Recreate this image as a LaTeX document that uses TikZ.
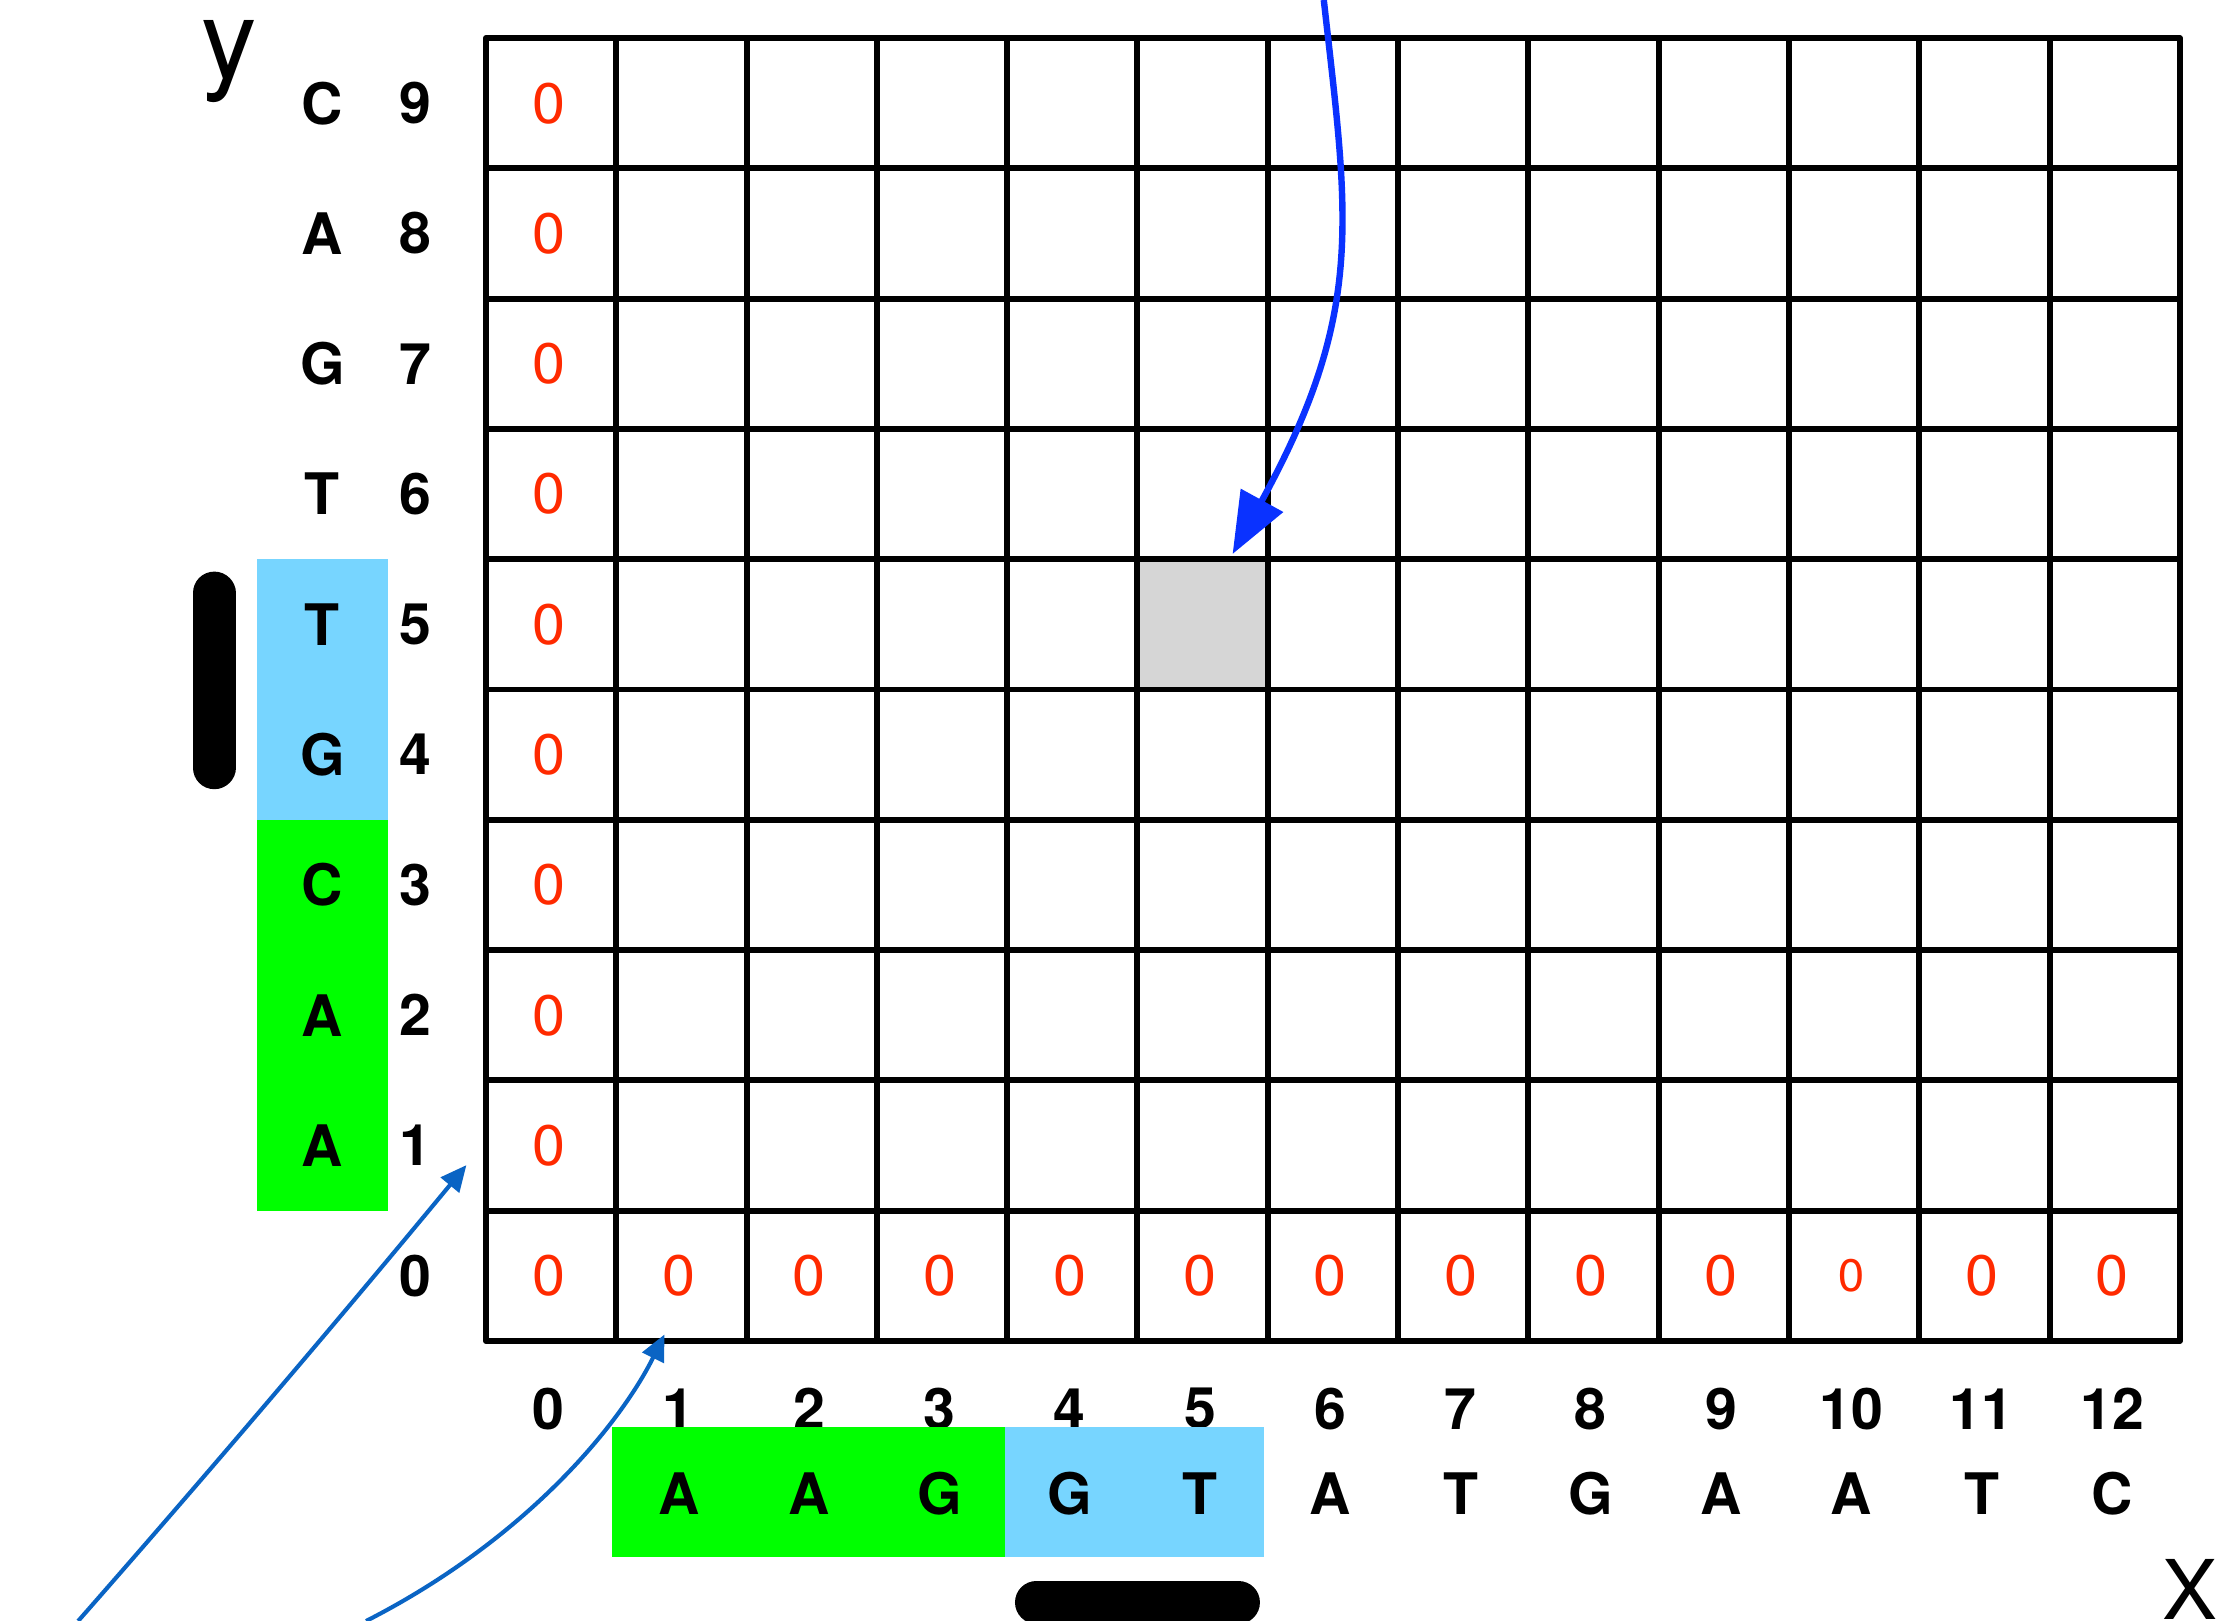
\documentclass[tikz,border=0pt]{standalone}
\usepackage{fontspec}
\setmainfont{TeX Gyre Heros}
\newfontfamily\zerofont{DejaVu Sans}
\usetikzlibrary{arrows.meta}
\definecolor{zred}{HTML}{FF2A00}
\definecolor{seqgreen}{HTML}{00FF00}
\definecolor{seqblue}{HTML}{77D5FF}
\definecolor{cellgray}{HTML}{D6D6D6}
\definecolor{arrowblue}{HTML}{0A32FF}
\definecolor{linkblue}{HTML}{0A64C4}
\begin{document}
\begin{tikzpicture}[x=1cm,y=1cm,
  lab/.style={font=\fontsize{12.5}{14}\selectfont\bfseries, inner sep=0pt},
  zero/.style={font=\zerofont\fontsize{11.9}{13}\selectfont, text=zred, inner sep=0pt},
  smallzero/.style={font=\zerofont\fontsize{9.5}{11}\selectfont, text=zred, inner sep=0pt},
  gridline/.style={line width=1.3pt},
  pill/.style={line width=0.33cm, line cap=round},
  bigarrow/.style={arrowblue, line width=1.4pt, -{Triangle[length=0.47cm,width=0.36cm]}},
  linkarrow/.style={linkblue, line width=0.9pt, -{Triangle[length=0.2cm,width=0.18cm]}}]
\useasboundingbox (-3.730,-2.149) rectangle (13.362,10.292);

% left coloured boxes
\fill[seqblue] (-1.757,4) rectangle (-0.752,6);
\fill[seqgreen] (-1.757,1) rectangle (-0.752,4);

% highlighted cell
\node[fill=cellgray, minimum size=1cm, inner sep=0pt, anchor=south west] (gray) at (5,5) {};

% grid
\draw[gridline] (0,0) grid (13,10);
\draw[gridline, line join=round] (0,0) rectangle (13,10);

% row numbers and left sequence
\foreach \j in {0,...,9} \node[lab] (r\j) at (-0.545,\j+0.5) {\j};
\foreach \l [count=\j] in {A,A,C,G,T,T,G,A,C} \node[lab] (L\j) at (-1.255,\j+0.5) {\l};

% zeros
\foreach \j in {0,...,9} \node[zero] (z0\j) at (0.48,\j+0.5) {0};
\foreach \i in {1,...,9,11,12} \node[zero] (z\i0) at (\i+0.48,0.5) {0};
\node[smallzero] (z100) at (10.48,0.5) {0};

% column numbers
\foreach \i in {0,...,12} \node[lab] (c\i) at (\i+0.48,-0.52) {\i};

% bottom coloured boxes
\fill[seqgreen] (0.97,-0.66) rectangle (3.98,-1.66);
\fill[seqblue] (3.98,-0.66) rectangle (5.97,-1.66);

% bottom sequence
\foreach \l [count=\i] in {A,A,G,G,T,A,T,G,A,A,T,C} \node[lab] (B\i) at (\i+0.48,-1.17) {\l};

% bars
\draw[pill] (-2.087,4.40) -- (-2.087,5.74);
\draw[pill] (4.225,-2.005) -- (5.775,-2.005);

% axis labels
\node[font=\fontsize{24.2}{26}\selectfont, anchor=base, inner sep=0pt] (ylab) at (-1.968,9.693) {y};
\node[font=\fontsize{18}{20}\selectfont, anchor=base, inner sep=0pt] (xlab) at (13.08,-2.14) {X};

% arrows
\coordinate (topstart) at (6.43,10.292);
\coordinate (graytip) at (5.73,6.04);
\draw[bigarrow] (topstart) .. controls (6.62,8.6) and (6.75,7.9) .. (graytip);

\coordinate (s1) at (-3.13,-2.149);
\coordinate (t1) at (-0.15,1.35);
\draw[linkarrow] (s1) .. controls (-2.12,-1.0) and (-1.1,0.2) .. (t1);

\coordinate (s2) at (-0.92,-2.149);
\coordinate (t2) at (1.37,0.05);
\draw[linkarrow] (s2) .. controls (0.35,-1.5) and (1.05,-0.6) .. (t2);
\end{tikzpicture}
\end{document}
